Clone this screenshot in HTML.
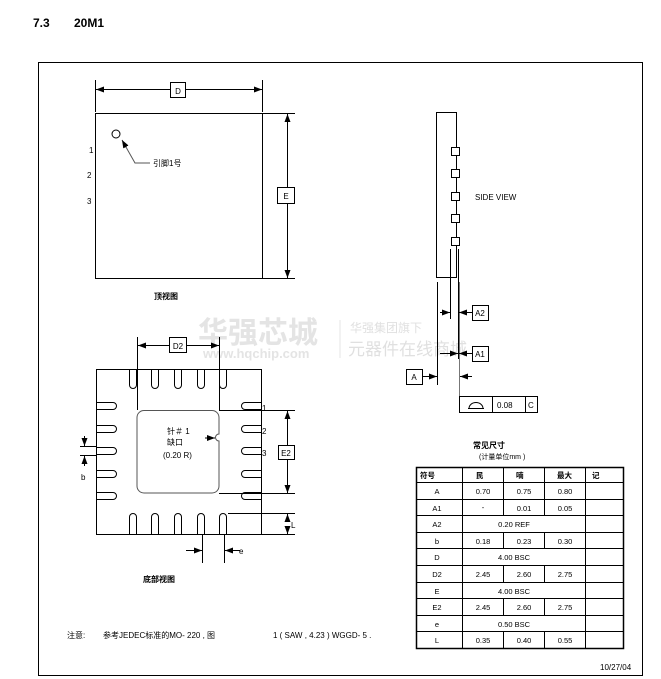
<!DOCTYPE html>
<html><head><meta charset="utf-8"><style>
html,body{margin:0;padding:0;background:#fff;width:661px;height:679px;overflow:hidden}
svg{display:block}
text{font-family:"Liberation Sans","Noto Sans CJK SC",sans-serif;fill:#000}
</style></head><body>
<svg width="661" height="679" viewBox="0 0 661 679" xmlns="http://www.w3.org/2000/svg">
<defs>
<marker id="ar" markerWidth="8" markerHeight="6" refX="8" refY="3" orient="auto" markerUnits="userSpaceOnUse"><path d="M0,0 L8,3 L0,6 z" fill="#000"/></marker>
</defs>
<text x="33" y="27" font-size="12" font-weight="bold">7.3</text>
<text x="74" y="27" font-size="12" font-weight="bold">20M1</text>
<rect x="38.5" y="62.5" width="604" height="613" fill="none" stroke="#000" stroke-width="1"/>

<g>
<text x="198" y="343" font-size="30" font-weight="bold" style="fill:#e4e4e4">华强芯城</text>
<text x="203" y="358" font-size="13" font-weight="bold" style="fill:#e4e4e4">www.hqchip.com</text>
<line x1="340" y1="320" x2="340" y2="358" stroke="#e6e6e6"/>
<text x="350" y="332" font-size="12" style="fill:#e0e0e0">华强集团旗下</text>
<text x="348" y="355" font-size="17" style="fill:#e0e0e0">元器件在线商城</text>
</g>

<g stroke="#000" stroke-width="1" fill="none">
<rect x="95.5" y="113.5" width="167" height="165"/>
<line x1="95.5" y1="80" x2="95.5" y2="112"/><line x1="262.5" y1="80" x2="262.5" y2="112"/>
<line x1="170" y1="89.5" x2="96" y2="89.5" marker-end="url(#ar)"/>
<line x1="185" y1="89.5" x2="262" y2="89.5" marker-end="url(#ar)"/>
<rect x="170.5" y="82.5" width="15" height="15"/>
<line x1="263" y1="113.5" x2="295" y2="113.5"/><line x1="263" y1="278.5" x2="295" y2="278.5"/>
<line x1="287.5" y1="187" x2="287.5" y2="114" marker-end="url(#ar)"/>
<line x1="287.5" y1="203" x2="287.5" y2="278" marker-end="url(#ar)"/>
<rect x="277.5" y="187.5" width="17" height="16"/>
<circle cx="116" cy="134" r="4"/>
<polyline points="150,163 135,163 122,140" stroke="#555" marker-end="url(#ar)"/>

<rect x="96.5" y="369.5" width="165" height="165"/>
<g stroke="#000">
<path d="M129.5,369 V385 a3.5,3.5 0 0 0 7,0 V369"/>
<path d="M151.5,369 V385 a3.5,3.5 0 0 0 7,0 V369"/>
<path d="M174.5,369 V385 a3.5,3.5 0 0 0 7,0 V369"/>
<path d="M197.5,369 V385 a3.5,3.5 0 0 0 7,0 V369"/>
<path d="M219.5,369 V385 a3.5,3.5 0 0 0 7,0 V369"/>
<path d="M129.5,534 V517 a3.5,3.5 0 0 1 7,0 V534"/>
<path d="M151.5,534 V517 a3.5,3.5 0 0 1 7,0 V534"/>
<path d="M174.5,534 V517 a3.5,3.5 0 0 1 7,0 V534"/>
<path d="M197.5,534 V517 a3.5,3.5 0 0 1 7,0 V534"/>
<path d="M219.5,534 V517 a3.5,3.5 0 0 1 7,0 V534"/>
<path d="M96,402.5 H113 a3.5,3.5 0 0 1 0,7 H96"/>
<path d="M96,425.5 H113 a3.5,3.5 0 0 1 0,7 H96"/>
<path d="M96,447.5 H113 a3.5,3.5 0 0 1 0,7 H96"/>
<path d="M96,470.5 H113 a3.5,3.5 0 0 1 0,7 H96"/>
<path d="M96,492.5 H113 a3.5,3.5 0 0 1 0,7 H96"/>
<path d="M262,402.5 H245 a3.5,3.5 0 0 0 0,7 H262"/>
<path d="M262,425.5 H245 a3.5,3.5 0 0 0 0,7 H262"/>
<path d="M262,447.5 H245 a3.5,3.5 0 0 0 0,7 H262"/>
<path d="M262,470.5 H245 a3.5,3.5 0 0 0 0,7 H262"/>
<path d="M262,492.5 H245 a3.5,3.5 0 0 0 0,7 H262"/>
</g>
<path d="M144,410.5 H212 a7,7 0 0 1 7,7 V434 a3.5,3.5 0 0 0 0,7 V486 a7,7 0 0 1 -7,7 H144 a7,7 0 0 1 -7,-7 V417.5 a7,7 0 0 1 7,-7 z" stroke="#555"/>
<line x1="205" y1="438" x2="215" y2="438" marker-end="url(#ar)"/>
<line x1="137.5" y1="337" x2="137.5" y2="410"/>
<polyline points="219.5,337 219.5,410.5 295,410.5"/>
<line x1="169" y1="345.5" x2="138" y2="345.5" marker-end="url(#ar)"/>
<line x1="186" y1="345.5" x2="219" y2="345.5" marker-end="url(#ar)"/>
<rect x="169.5" y="337.5" width="17" height="15"/>
<line x1="219" y1="493.5" x2="295" y2="493.5"/>
<line x1="287.5" y1="446" x2="287.5" y2="411" marker-end="url(#ar)"/>
<line x1="287.5" y1="459" x2="287.5" y2="493" marker-end="url(#ar)"/>
<rect x="278.5" y="445.5" width="16" height="14"/>
<line x1="228" y1="513.5" x2="295" y2="513.5"/><line x1="262" y1="534.5" x2="295" y2="534.5"/>
<line x1="287.5" y1="521" x2="287.5" y2="514" marker-end="url(#ar)"/>
<line x1="287.5" y1="526" x2="287.5" y2="534" marker-end="url(#ar)"/>
<line x1="80" y1="446.5" x2="96" y2="446.5"/><line x1="80" y1="455.5" x2="96" y2="455.5"/>
<line x1="84.5" y1="436" x2="84.5" y2="446" marker-end="url(#ar)"/>
<line x1="84.5" y1="466" x2="84.5" y2="456" marker-end="url(#ar)"/>
<line x1="202.5" y1="534" x2="202.5" y2="563"/><line x1="224.5" y1="534" x2="224.5" y2="563"/>
<line x1="186" y1="550.5" x2="202" y2="550.5" marker-end="url(#ar)"/>
<line x1="240" y1="550.5" x2="225" y2="550.5" marker-end="url(#ar)"/>

<rect x="436.5" y="112.5" width="20" height="165"/>
<rect x="451.5" y="147.5" width="8" height="8" fill="#fff"/>
<rect x="451.5" y="169.5" width="8" height="8" fill="#fff"/>
<rect x="451.5" y="192.5" width="8" height="8" fill="#fff"/>
<rect x="451.5" y="214.5" width="8" height="8" fill="#fff"/>
<rect x="451.5" y="237.5" width="8" height="8" fill="#fff"/>
<line x1="437.5" y1="282" x2="437.5" y2="385"/>
<line x1="450.5" y1="249" x2="450.5" y2="319"/>
<line x1="458.5" y1="249" x2="458.5" y2="359"/>
<line x1="459.5" y1="282" x2="459.5" y2="396" stroke="#777"/>
<line x1="440" y1="312.5" x2="450" y2="312.5" marker-end="url(#ar)"/>
<line x1="472" y1="312.5" x2="459" y2="312.5" marker-end="url(#ar)"/>
<rect x="472.5" y="305.5" width="16" height="15"/>
<line x1="440" y1="353.5" x2="458" y2="353.5" marker-end="url(#ar)"/>
<line x1="472" y1="353.5" x2="459" y2="353.5" marker-end="url(#ar)"/>
<rect x="472.5" y="346.5" width="16" height="15"/>
<line x1="422" y1="376.5" x2="437" y2="376.5" marker-end="url(#ar)"/>
<rect x="406.5" y="369.5" width="16" height="15"/>
<line x1="472" y1="376.5" x2="460" y2="376.5" marker-end="url(#ar)"/>
<rect x="459.5" y="396.5" width="78" height="16"/>
<line x1="492.5" y1="396.5" x2="492.5" y2="412.5"/><line x1="525.5" y1="396.5" x2="525.5" y2="412.5"/>
<path d="M468,408.5 H484 M469,408.5 a7,6 0 0 1 14,0"/>

<rect x="416.5" y="467.5" width="207" height="181" stroke-width="1.5"/>
<g>
<line x1="416" y1="482.5" x2="623" y2="482.5"/>
<line x1="416" y1="499.5" x2="623" y2="499.5"/>
<line x1="416" y1="515.5" x2="623" y2="515.5"/>
<line x1="416" y1="532.5" x2="623" y2="532.5"/>
<line x1="416" y1="548.5" x2="623" y2="548.5"/>
<line x1="416" y1="565.5" x2="623" y2="565.5"/>
<line x1="416" y1="582.5" x2="623" y2="582.5"/>
<line x1="416" y1="598.5" x2="623" y2="598.5"/>
<line x1="416" y1="615.5" x2="623" y2="615.5"/>
<line x1="416" y1="631.5" x2="623" y2="631.5"/>
<line x1="462.5" y1="467" x2="462.5" y2="648"/>
<line x1="585.5" y1="467" x2="585.5" y2="648"/>
<path d="M503.5,467 V515 M503.5,532 V548 M503.5,565 V582 M503.5,598 V615 M503.5,631 V648"/>
<path d="M544.5,467 V515 M544.5,532 V548 M544.5,565 V582 M544.5,598 V615 M544.5,631 V648"/>
</g>
</g>

<g font-size="8">
<text x="89" y="153">1</text><text x="87" y="178">2</text><text x="87" y="204">3</text>
<text x="178" y="94" text-anchor="middle">D</text>
<text x="286" y="199" text-anchor="middle">E</text>
<text x="153" y="166">引脚1号</text>
<text x="154" y="299" font-weight="bold">顶视图</text>
<text x="178" y="349" text-anchor="middle">D2</text>
<text x="286" y="456" text-anchor="middle">E2</text>
<text x="262" y="411">1</text><text x="262" y="434">2</text><text x="262" y="456">3</text>
<text x="167" y="434">针＃ 1</text><text x="167" y="445">缺口</text><text x="163" y="458">(0.20 R)</text>
<text x="81" y="480">b</text><text x="291" y="528">L</text><text x="239" y="554">e</text>
<text x="143" y="582" font-weight="bold">底部视图</text>
<text x="475" y="200">SIDE VIEW</text>
<text x="480" y="316" text-anchor="middle">A2</text>
<text x="480" y="357" text-anchor="middle">A1</text>
<text x="414" y="380" text-anchor="middle">A</text>
<text x="497" y="408">0.08</text><text x="528" y="408">C</text>
<text x="473" y="448" font-weight="bold">常见尺寸</text>
<text x="479" y="459" font-size="7">(计量单位mm )</text>
<g font-size="7.5">
<text x="420" y="478" font-weight="bold">符号</text><text x="476" y="478" font-weight="bold">民</text><text x="516" y="478" font-weight="bold">喃</text><text x="557" y="478" font-weight="bold">最大</text><text x="592" y="478" font-weight="bold">记</text>
<g text-anchor="middle">
<text x="437" y="494">A</text><text x="483" y="494">0.70</text><text x="524" y="494">0.75</text><text x="565" y="494">0.80</text>
<text x="437" y="511">A1</text><text x="483" y="510">-</text><text x="524" y="511">0.01</text><text x="565" y="511">0.05</text>
<text x="437" y="527">A2</text><text x="514" y="527">0.20 REF</text>
<text x="437" y="544">b</text><text x="483" y="544">0.18</text><text x="524" y="544">0.23</text><text x="565" y="544">0.30</text>
<text x="437" y="560">D</text><text x="514" y="560">4.00 BSC</text>
<text x="437" y="577">D2</text><text x="483" y="577">2.45</text><text x="524" y="577">2.60</text><text x="565" y="577">2.75</text>
<text x="437" y="594">E</text><text x="514" y="594">4.00 BSC</text>
<text x="437" y="610">E2</text><text x="483" y="610">2.45</text><text x="524" y="610">2.60</text><text x="565" y="610">2.75</text>
<text x="437" y="627">e</text><text x="514" y="627">0.50 BSC</text>
<text x="437" y="643">L</text><text x="483" y="643">0.35</text><text x="524" y="643">0.40</text><text x="565" y="643">0.55</text>
</g></g>
<text x="67" y="638">注意:</text>
<text x="103" y="638">参考JEDEC标准的MO- 220 , 图</text>
<text x="273" y="638">1 ( SAW , 4.23 ) WGGD- 5 .</text>
<text x="600" y="670">10/27/04</text>
</g>
</svg>
</body></html>
